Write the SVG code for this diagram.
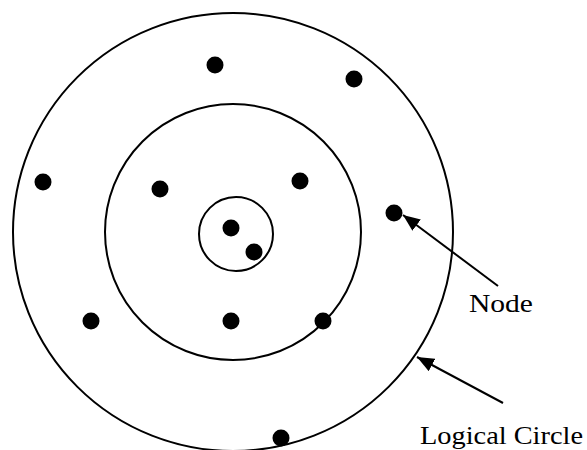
<svg xmlns="http://www.w3.org/2000/svg" width="587" height="450" viewBox="0 0 587 450">
<style>
.ring{fill:none;stroke:#000;stroke-width:2}
.dot{fill:#000}
.lbl{font-family:"Liberation Serif",serif;font-size:26px;fill:#000}
.conn{stroke:#000;stroke-width:2;fill:none}
</style>
<defs>
<marker id="ah" markerUnits="userSpaceOnUse" markerWidth="18" markerHeight="14" refX="17" refY="7" orient="auto">
<path d="M0,0 L17,7 L0,14 Z" fill="#000"/>
</marker>
</defs>
<rect width="587" height="450" fill="#fff"/>
<g id="circles">
<ellipse id="outer-circle" class="ring" cx="233" cy="232" rx="220" ry="219"/>
<circle id="middle-circle" class="ring" cx="233" cy="232" r="128"/>
<circle id="inner-circle" class="ring" cx="236" cy="234" r="37"/>
</g>
<g id="nodes">
<circle id="n1" class="dot" cx="215" cy="65" r="8.5"/>
<circle id="n2" class="dot" cx="354" cy="79" r="8.5"/>
<circle id="n3" class="dot" cx="43" cy="182" r="8.5"/>
<circle id="n4" class="dot" cx="160" cy="189" r="8.5"/>
<circle id="n5" class="dot" cx="300" cy="181" r="8.5"/>
<circle id="n6" class="dot" cx="394" cy="213" r="8.5"/>
<circle id="n7" class="dot" cx="231" cy="228" r="8.5"/>
<circle id="n8" class="dot" cx="254" cy="252" r="8.5"/>
<circle id="n9" class="dot" cx="91" cy="321" r="8.5"/>
<circle id="n10" class="dot" cx="231" cy="321" r="8.5"/>
<circle id="n11" class="dot" cx="323" cy="321" r="8.5"/>
<circle id="n12" class="dot" cx="281" cy="438" r="8.5"/>
</g>
<g id="connectors">
<line class="conn" x1="498" y1="286" x2="403" y2="215" marker-end="url(#ah)"/>
<line class="conn" x1="503" y1="403" x2="417" y2="357" marker-end="url(#ah)"/>
</g>
<g id="labels">
<text id="label-node" class="lbl" x="469" y="312" textLength="64" lengthAdjust="spacingAndGlyphs">Node</text>
<text id="label-circle" class="lbl" x="420" y="444" textLength="163" lengthAdjust="spacingAndGlyphs">Logical Circle</text>
</g>
</svg>
